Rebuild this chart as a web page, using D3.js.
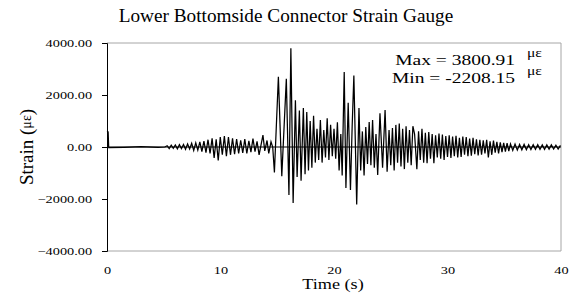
<!DOCTYPE html>
<html>
<head>
<meta charset="utf-8">
<script src="https://cdn.jsdelivr.net/npm/d3@7"></script>
<style>
  body { margin: 0; background: #fff; }
  svg text { font-family: "Liberation Serif", "Times New Roman", serif; fill: #000; }
</style>
</head>
<body>
<div id="chart"></div>
<script>
var width = 576;
var height = 297;

// strain record, read as [time s, strain με] turning points from the picture
var quietPhase = [
  [0, 600], [0.1, 580], [0.15, -20], [1.5, -10], [3.0, 10], [4.5, -15], [5.1, 0]
];
var preShock = [
  [5.3, 50], [5.48, -60], [5.66, 70], [5.84, -50], [6.02, 80], [6.2, -70], [6.38, 90], [6.56, -60],
  [6.74, 100], [6.92, -90], [7.1, 120], [7.28, -80], [7.46, 140], [7.64, -130], [7.82, 160], [8.0, -120],
  [8.18, 200], [8.36, -180], [8.54, 230], [8.72, -220], [8.9, 280], [9.08, -250], [9.26, 330], [9.44, -420],
  [9.62, 300], [9.8, -520], [9.98, 380], [10.16, -300], [10.34, 420], [10.52, -350], [10.7, 380], [10.88, -300],
  [11.06, 330], [11.24, -280], [11.42, 300], [11.6, -250], [11.78, 260], [11.96, -230], [12.14, 300], [12.32, -250],
  [12.5, 240], [12.68, -200], [12.86, 320], [13.04, -180], [13.22, 220], [13.4, -300], [13.74, 460], [13.9, -150],
  [14.1, 250], [14.25, -250], [14.45, 200], [14.6, 0], [14.75, -980]
];
var strongShaking = [
  [15.1, 2700], [15.4, -1120], [15.8, 2620], [16.03, -1850], [16.2, 3800.91], [16.4, -2150], [16.6, 1800], [16.75, -1150],
  [16.95, 1400], [17.1, -1300], [17.3, 1500], [17.45, -1050], [17.6, 1350], [17.75, -900], [17.9, 1000], [18.05, -800],
  [18.2, 1200], [18.35, -600], [18.5, 700], [18.65, -500], [18.8, 1040], [18.95, -600], [19.1, 650], [19.25, -400],
  [19.4, 1100], [19.55, -500], [19.7, 850], [19.85, -350], [20.0, 700], [20.15, -450], [20.3, 950], [20.45, -900],
  [20.6, 500], [20.72, -1100], [20.9, 2880], [21.05, -1580], [21.25, 1700], [21.45, -1650], [21.6, 800], [21.75, 2750],
  [22.0, -2208.15], [22.2, 1500], [22.35, -900], [22.5, 600], [22.65, -1100], [22.8, 770], [22.95, -650], [23.1, 960],
  [23.25, -700], [23.4, 1040], [23.55, -800], [23.7, 500], [23.85, -1080], [24.05, 1300], [24.28, -800], [24.5, 1420],
  [24.68, -950], [24.85, 650]
];
var decay = [
  [25.0, -700], [25.15, 730], [25.3, -900], [25.45, 850], [25.6, -600], [25.75, 900], [25.9, -750], [26.05, 700],
  [26.2, -850], [26.35, 800], [26.5, -600], [26.65, 650], [26.8, -700], [26.95, 800], [27.1, 500], [27.3, -850],
  [27.45, 600], [27.6, -500], [27.75, 700], [27.9, -600], [28.05, 550], [28.2, -620], [28.35, 580], [28.5, -450],
  [28.65, 500], [28.8, -620], [28.95, 450], [29.1, -400], [29.25, 520], [29.4, -450], [29.55, 480], [29.7, -500],
  [29.85, 420], [30.0, -380], [30.15, 450], [30.3, -420], [30.45, 400], [30.6, -350], [30.75, 430], [30.9, -400],
  [31.05, 350], [31.2, -380], [31.35, 400], [31.5, -300], [31.65, 380], [31.8, -350], [31.95, 320], [32.1, -330],
  [32.25, 350], [32.4, -280], [32.55, 300], [32.7, -320], [32.85, 280], [33.0, -300], [33.15, 260], [33.3, -250],
  [33.45, 280], [33.6, -400], [33.75, 220], [33.9, -300], [34.05, 250], [34.2, -220], [34.35, 200], [34.5, -250],
  [34.65, 180], [34.8, -200], [34.95, 160], [35.1, -180], [35.25, 150], [35.4, -160], [35.55, 120], [35.75, -130],
  [35.95, 110], [36.15, -120], [36.35, 100], [36.55, -110], [36.75, 100], [36.95, -100], [37.15, 90], [37.35, -100],
  [37.55, 90], [37.75, -90], [37.95, 90], [38.15, -90], [38.35, 80], [38.55, -90], [38.75, 80], [38.95, -80],
  [39.15, 80], [39.35, -80], [39.55, 70], [39.75, -80], [39.95, 60]
];

var xTicks = [0, 10, 20, 30, 40];
var yTicks = [-4000, -2000, 0, 2000, 4000];
var maxLabel = "Max = 3800.91";
var minLabel = "Min = -2208.15";

var margin = {top: 43, right: 15, bottom: 46, left: 107};
var stretch = 1.3;

var svg = d3.select("#chart")
  .append("svg")
  .attr("width", width)
  .attr("height", height);

var chart_width = width - margin.left - margin.right;
var chart_height = height - margin.top - margin.bottom;

var x_scale = d3.scaleLinear().domain([0, 40]).range([margin.left, margin.left + chart_width]);
var y_scale = d3.scaleLinear().domain([-4000, 4000]).range([margin.top + chart_height, margin.top]);

// plot frame (grey top, right, bottom)
svg.append("path")
  .attr("d", "M" + x_scale(0) + "," + y_scale(4000) + "H" + x_scale(40) + "V" + y_scale(-4000) + "H" + x_scale(0))
  .attr("fill", "none")
  .attr("stroke", "#a6a6a6")
  .attr("stroke-width", 1);

// y axis
var yAxis = d3.axisLeft(y_scale)
  .tickValues(yTicks)
  .tickSize(5)
  .tickPadding(6.5)
  .tickFormat(d3.format(".2f"));

var axis_left = svg.append("g")
  .attr("transform", "translate(" + x_scale(0) + ",0)")
  .call(yAxis);
axis_left.select(".domain").attr("stroke", "#000");
axis_left.selectAll("text")
  .style("font-size", "11px")
  .style("font-family", "Liberation Serif, serif")
  .attr("fill", "#222")
  .attr("transform", "scale(" + stretch + ",1)");

// x axis labels along bottom
var xAxis = d3.axisBottom(x_scale)
  .tickValues(xTicks)
  .tickSize(0)
  .tickPadding(15)
  .tickFormat(d3.format("d"));

var axis_bottom = svg.append("g")
  .attr("transform", "translate(0," + y_scale(-4000) + ")")
  .call(xAxis);
axis_bottom.select(".domain").remove();
axis_bottom.selectAll("text")
  .style("font-size", "11px")
  .style("font-family", "Liberation Serif, serif")
  .attr("fill", "#222")
  .attr("transform", "scale(" + stretch + ",1)");

// zero line
svg.append("line")
  .attr("x1", x_scale(0)).attr("x2", x_scale(40))
  .attr("y1", y_scale(0)).attr("y2", y_scale(0))
  .attr("stroke", "#000")
  .attr("stroke-width", 1);

// signal
var series = quietPhase.concat(preShock, strongShaking, decay);
var line = d3.line()
  .x(d => x_scale(d[0]))
  .y(d => y_scale(d[1]));

svg.append("path")
  .datum(series)
  .attr("d", line)
  .attr("fill", "none")
  .attr("stroke", "#000")
  .attr("stroke-width", 1.25)
  .attr("stroke-linejoin", "miter");

function stretchedText(x, y, anchor, size, str) {
  return svg.append("text")
    .attr("transform", "translate(" + x + "," + y + ") scale(" + stretch + ",1)")
    .attr("text-anchor", anchor)
    .style("font-size", size + "px")
    .style("fill", "#000")
    .text(str);
}

// title
svg.append("text")
  .attr("transform", "translate(286,22) scale(1.07,1)")
  .attr("text-anchor", "middle")
  .style("font-size", "18px")
  .text("Lower Bottomside Connector Strain Gauge");

// axis titles
stretchedText(333, 289, "middle", 14, "Time (s)");

var yTitle = svg.append("text")
  .attr("transform", "translate(33,147) rotate(-90)")
  .attr("text-anchor", "middle")
  .style("font-size", "19px");
yTitle.append("tspan").text("Strain (");
yTitle.append("tspan").style("font-size", "14px").attr("dy", -2).text("με");
yTitle.append("tspan").attr("dy", 2).text(")");

// extreme value notes
stretchedText(515, 65, "end", 15, maxLabel);
stretchedText(527, 57, "start", 12, "με");
stretchedText(515, 83, "end", 15, minLabel);
stretchedText(527, 75, "start", 12, "με");
</script>
</body>
</html>
